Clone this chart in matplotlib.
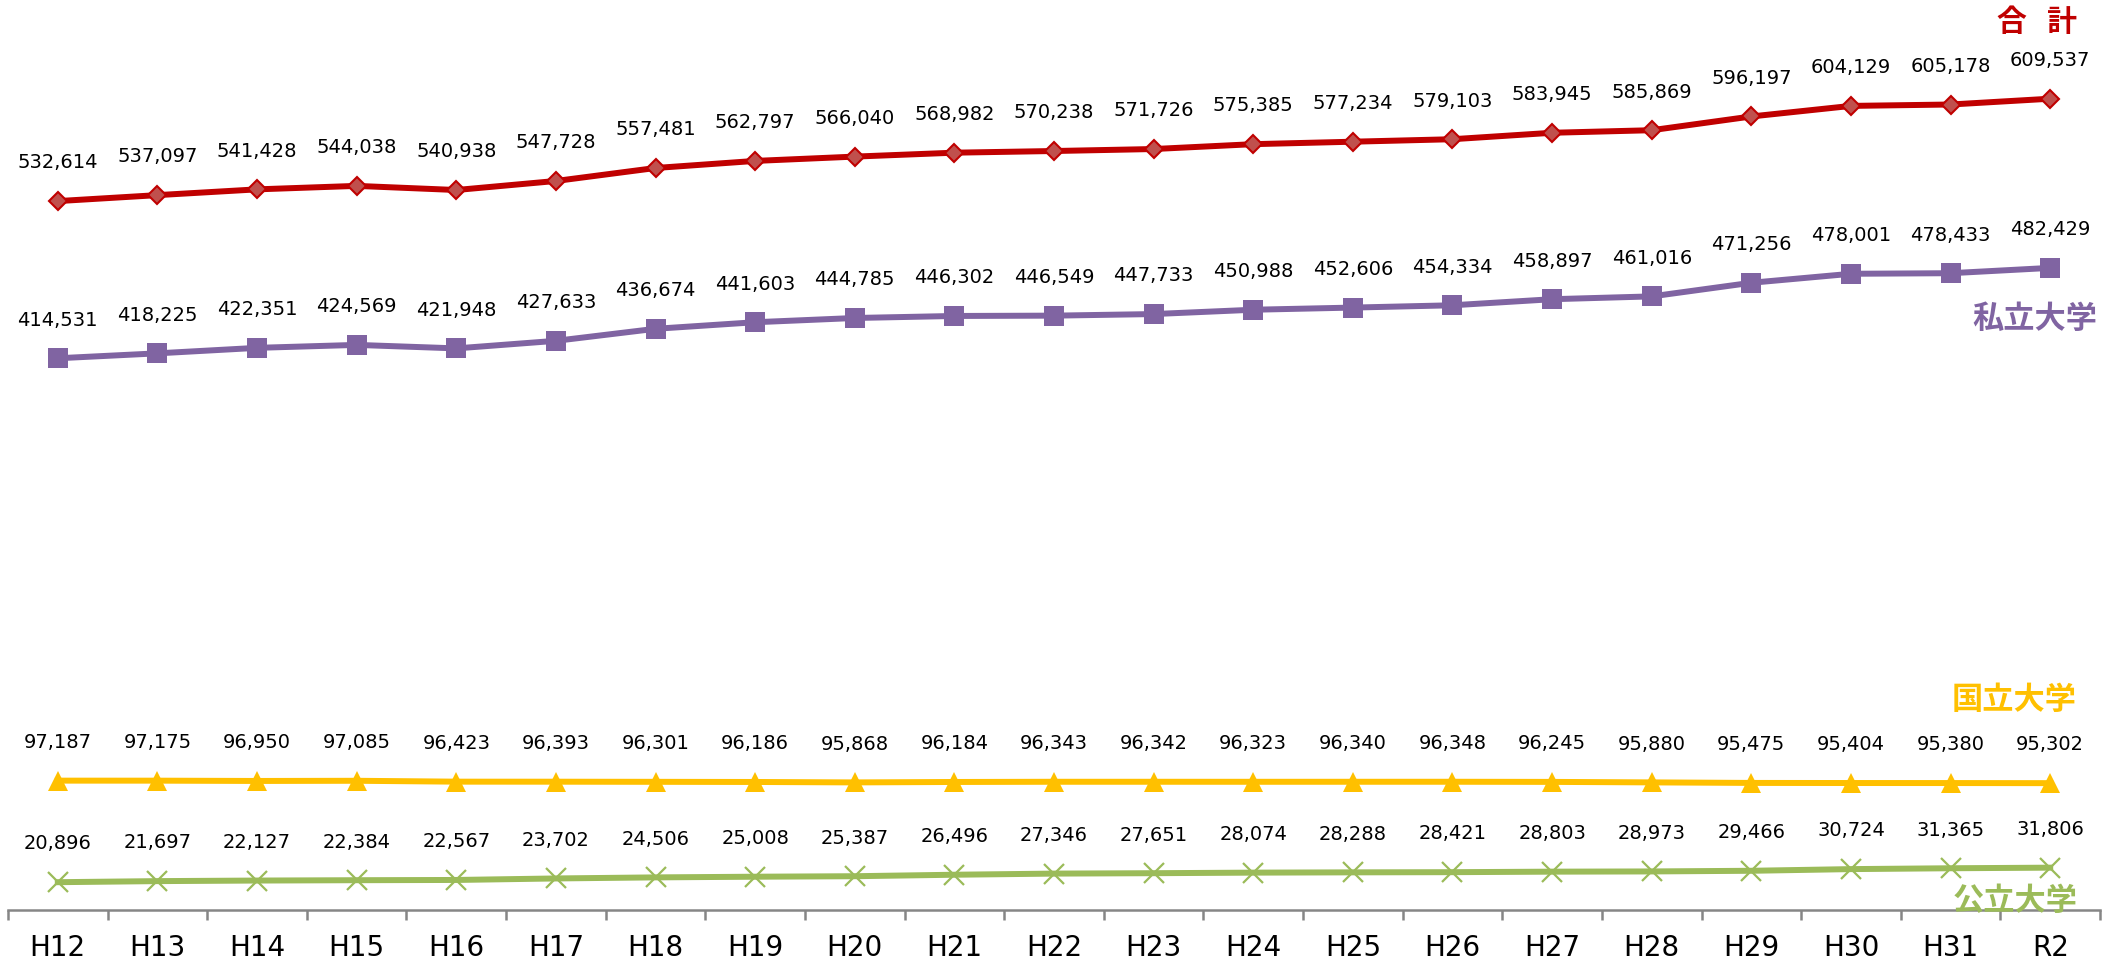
import matplotlib.pyplot as plt
import numpy as np

# 年度
years = ['H12', 'H13', 'H14', 'H15', 'H16', 'H17', 'H18', 'H19', 'H20', 'H21', 'H22',
         'H23', 'H24', 'H25', 'H26', 'H27', 'H28', 'H29', 'H30', 'H31', 'R2']

# 学生数
total = [532614, 537097, 541428, 544038, 540938, 547728, 557481, 562797, 566040, 568982, 570238,
         571726, 575385, 577234, 579103, 583945, 585869, 596197, 604129, 605178, 609537]
private = [414531, 418225, 422351, 424569, 421948, 427633, 436674, 441603, 444785, 446302, 446549,
           447733, 450988, 452606, 454334, 458897, 461016, 471256, 478001, 478433, 482429]
national = [97187, 97175, 96950, 97085, 96423, 96393, 96301, 96186, 95868, 96184, 96343,
            96342, 96323, 96340, 96348, 96245, 95880, 95475, 95404, 95380, 95302]
public = [20896, 21697, 22127, 22384, 22567, 23702, 24506, 25008, 25387, 26496, 27346,
          27651, 28074, 28288, 28421, 28803, 28973, 29466, 30724, 31365, 31806]

W, H = 2113, 968
ymax = 700000
px_per_unit = 0.001331

fig = plt.figure(figsize=(W / 100, H / 100), dpi=100)
ax = fig.add_axes([8 / W, 58 / H, (2100 - 8) / W, ymax * px_per_unit / H])

x = np.arange(len(years))

# 各系列: 値, 線の色, マーカー
series = [
    (total, '#C00000', dict(marker='D', ms=9, mfc='#C0504D', mec='#C00000', mew=1.5)),
    (private, '#8064A2', dict(marker='s', ms=15, mfc='#8064A2', mec='#8064A2', mew=0)),
    (national, '#FFC000', dict(marker='^', ms=15, mfc='#FFC000', mec='#FFC000', mew=0)),
    (public, '#9BBB59', dict(marker='x', ms=15, mec='#9BBB59', mew=1.6)),
]

for vals, col, mk in series:
    ax.plot(x, vals, color=col, lw=4.3, clip_on=False, zorder=3, **mk)
    for xi, v in zip(x, vals):
        ax.annotate(f'{v:,}', (xi, v), xytext=(0, 27.5), textcoords='offset points',
                    ha='center', va='center', fontsize=14, color='black')

# 系列名
jp = ['Noto Sans CJK JP', 'DejaVu Sans']
ax.text(20.27, 667000, '合   計', ha='right', va='center', fontsize=21.5,
        fontweight='bold', color='#C00000', family=jp)
ax.text(20.47, 444000, '私立大学', ha='right', va='center', fontsize=22.5,
        fontweight='bold', color='#8064A2', family=jp)
ax.text(20.27, 157800, '国立大学', ha='right', va='center', fontsize=22.5,
        fontweight='bold', color='#FFC000', family=jp)
ax.text(20.28, 6800, '公立大学', ha='right', va='center', fontsize=22.5,
        fontweight='bold', color='#9BBB59', family=jp)

ax.set_xlim(-0.5, len(years) - 0.5)
ax.set_ylim(0, ymax)

for s in ['left', 'top', 'right']:
    ax.spines[s].set_visible(False)
ax.spines['bottom'].set_color('#868686')
ax.spines['bottom'].set_linewidth(1.8)

ax.set_yticks([])
ax.set_xticks(x)
ax.set_xticklabels(years, fontsize=20)
ax.set_xticks(np.arange(-0.5, len(years)), minor=True)
ax.tick_params(axis='x', which='major', length=0, pad=17.5)
ax.tick_params(axis='x', which='minor', length=7, width=1.8, color='#868686')

fig.savefig('out.png', dpi=100)
